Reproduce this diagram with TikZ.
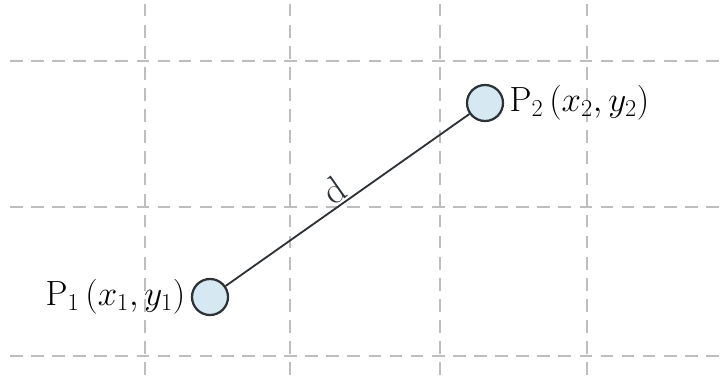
\documentclass[tikz,border=0pt]{standalone}
\usepackage{amsmath,amssymb}
\usepackage{xcolor}
\usepackage{tikz}
\usetikzlibrary{positioning}

\definecolor{gridgray}{RGB}{190,190,190}
\definecolor{pointfill}{RGB}{214,233,243}
\definecolor{pointedge}{RGB}{45,50,55}

\begin{document}
\begin{tikzpicture}[x=0.025cm, y=0.025cm,
  gridline/.style={gridgray, line width=0.9pt, dash pattern=on 9pt off 6pt},
  point/.style={circle, draw=pointedge, fill=pointfill, line width=1.6pt, minimum size=0.9cm, inner sep=0pt},
  ptlabel/.style={font=\fontsize{27}{32}\selectfont, inner sep=2pt},
  segment/.style={pointedge, line width=1.3pt}]

\useasboundingbox (0,0) rectangle (720,375);

\foreach \gx in {145,290,440,587}
  \draw[gridline] (\gx,0) -- (\gx,375);
\foreach \gy in {19,168,314}
  \draw[gridline] (10,\gy) -- (720,\gy);

\node[point] (p1) at (210,78) {};
\node[point] (p2) at (485,272) {};

\node[ptlabel, left=0.06cm of p1] (lab1) {$\mathrm{P}_1\,(x_1, y_1)$};
\node[ptlabel, right=0.06cm of p2] (lab2) {$\mathrm{P}_2\,(x_2, y_2)$};

\draw[segment] (p1) -- node[ptlabel, above, sloped, pos=0.48, inner sep=1pt] (dist) {d} (p2);
\end{tikzpicture}
\end{document}
